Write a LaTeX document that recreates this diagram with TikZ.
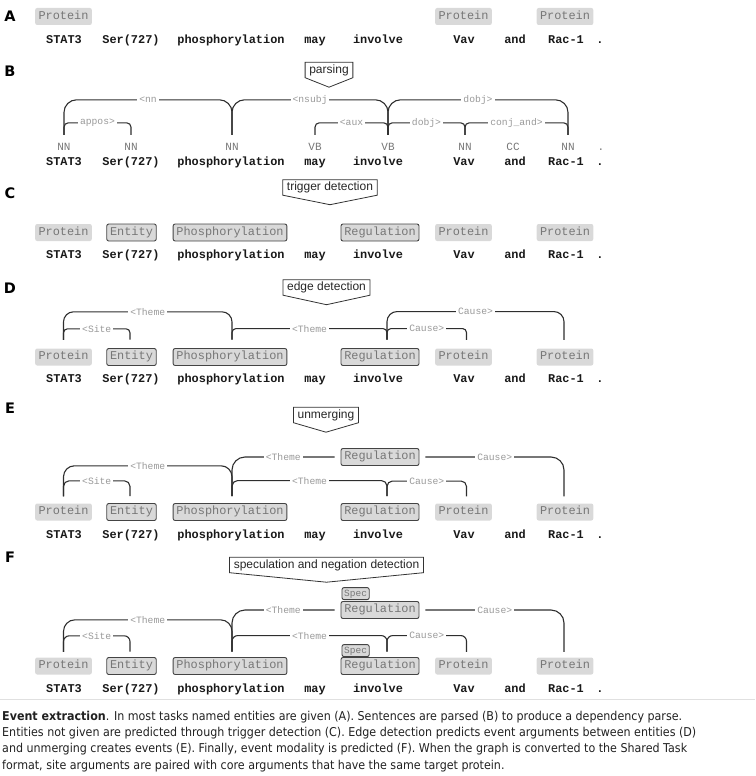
\documentclass[tikz,border=0pt]{standalone}
\usepackage{fontspec}
\setmainfont{Liberation Sans}
\setmonofont{Liberation Mono}
\newfontfamily\capfont[FakeStretch=0.91]{DejaVu Sans}
\newfontfamily\letterfont{DejaVu Sans}

\definecolor{boxgray}{HTML}{D9D9D9}
\definecolor{txtgray}{HTML}{777777}
\definecolor{labgray}{HTML}{9A9A9A}
\definecolor{edgegray}{HTML}{444444}
\definecolor{arcgray}{HTML}{2E2E2E}

% arc from one foot up to a level and down to the other foot
\newcommand\deparc[4]{%
	\pgfmathsetmacro\rc{#3*0.36}
	\draw[arc,rounded corners=\rc pt] (#1) -- ++(0,-#3) -| node[deplabel,pos=.25]{#4} (#2);}

% the sentence, one node per token
\newcommand\sentence[2]{%
	\foreach \w/\x [count=\i] in {STAT3/64,Ser(727)/131,phosphorylation/231,may/315,involve/378,Vav/464,and/515,Rac-1/566,./600}
		\node[word] (#1w\i) at (\x,#2) {\w};}

% the entity / trigger labels over the sentence
\newcommand\eventrow[3]{%
	\node[given] (#1p1) at (63.5,#2) {Protein};
	\node[trig]  (#1e2) at (131.5,#2) {Entity};
	\node[trig]  (#1t3) at (230,#2) {Phosphorylation};
	\node[trig]  (#1t5) at (380,#2) {Regulation};
	\node[given] (#1p6) at (463.5,#2) {Protein};
	\node[given] (#1p8) at (565,#2) {Protein};
	\foreach \n/\dx in {p1/0,e2/-1.5,t3/2,t5/7,p6/3,p8/-1}
		\coordinate (f#1\n) at ([xshift=\dx pt,yshift=#3pt]#1\n.north);}

\begin{document}
\begin{tikzpicture}[x=1pt,y=-1pt,
	panel/.style={font=\letterfont\fontsize{14.5}{15}\selectfont\bfseries, inner sep=0pt},
	word/.style={font=\ttfamily\bfseries\fontsize{11.9}{12}\selectfont, text=black!90, inner sep=0pt, anchor=base},
	tag/.style={font=\ttfamily\fontsize{11}{11}\selectfont, text=txtgray, inner sep=0pt, anchor=base, text height=7pt, text depth=0pt},
	given/.style={fill=boxgray, rounded corners=2pt, text=txtgray, font=\ttfamily\fontsize{11.9}{12}\selectfont,
		inner xsep=3.3pt, inner ysep=0pt, text height=8pt, text depth=2.5pt, minimum height=17pt},
	trig/.style={given, draw=edgegray, line width=0.9pt},
	spec/.style={trig, font=\ttfamily\fontsize{9.5}{10}\selectfont, inner xsep=2.2pt, text height=7pt, text depth=2pt, minimum height=12pt},
	stepbox/.style={font=\fontsize{12}{12}\selectfont, text=black!85, inner xsep=4pt, inner ysep=0pt, minimum height=15pt},
	stepline/.style={draw=black!80, line width=0.8pt},
	arc/.style={draw=arcgray, line width=1.1pt, rounded corners=7pt},
	deplabel/.style={fill=white, sharp corners, font=\ttfamily\fontsize{9.7}{10}\selectfont, text=labgray, inner xsep=2pt, inner ysep=1pt},
	caption/.style={font=\capfont\fontsize{12.2}{14}\selectfont, text=black!87, inner sep=0pt, anchor=west}]
	\useasboundingbox (0,0) rectangle (755,776);
	
	% panel letters
	\foreach \l/\y in {A/16,B/71,C/193,D/288,E/408,F/557}
		\node[panel] (l\l) at (10,\y) {\l};
	
	% the steps between panels
	\node[stepbox] (parse) at (329,70) {parsing};
	\node[stepbox] (trigdet) at (330,187.5) {trigger detection};
	\node[stepbox] (edgedet) at (326.5,287.5) {edge detection};
	\node[stepbox] (unmerge) at (326,415) {unmerging};
	\node[stepbox] (specdet) at (326.5,565) {speculation and negation detection};
	\foreach \s in {parse,trigdet,edgedet,unmerge,specdet}
		\draw[stepline] (\s.north west) -- (\s.north east) -- (\s.south east)
			-- ([yshift=-9.5pt]\s.south) -- (\s.south west) -- cycle;
	
	%% A: given entities
	\node[given] (Ap1) at (63.5,16.5) {Protein};
	\node[given] (Ap6) at (463.5,16.5) {Protein};
	\node[given] (Ap8) at (565,16.5) {Protein};
	\sentence{A}{43.5}
	
	%% B: dependency parse
	\foreach \t/\x [count=\i] in {NN/64,NN/131,NN/232,VB/315,VB/388,NN/465,CC/513,NN/568,./601} {
		\node[tag] (tB\i) at (\x,150.5) {\t};
		\coordinate (fB\i) at ([yshift=8.5pt]tB\i.north);
	}
	\deparc{fB1}{fB3}{35}{<nn}
	\deparc{fB3}{fB5}{35}{<nsubj}
	\deparc{fB5}{fB8}{35}{dobj>}
	\deparc{fB1}{fB2}{12}{appos>}
	\deparc{fB4}{fB5}{12}{<aux}
	\deparc{fB5}{fB6}{12}{dobj>}
	\deparc{fB6}{fB8}{12}{conj\_and>}
	\sentence{B}{165.5}
	
	%% C: triggers
	\eventrow{C}{232.5}{8.5}
	\sentence{C}{258.5}
	
	%% D: edges
	\eventrow{D}{357}{8.5}
	\deparc{fDp1}{fDt3}{28}{<Theme}
	\deparc{fDp1}{fDe2}{11}{<Site}
	\deparc{fDt3}{fDt5}{11}{<Theme}
	\deparc{fDt5}{fDp8}{28}{Cause>}
	\deparc{fDt5}{fDp6}{11}{Cause>}
	\sentence{D}{382.5}
	
	%% E: unmerged events
	\eventrow{E}{512}{7}
	\node[trig] (Eu5) at (380,457) {Regulation};
	\draw[arc,rounded corners=13pt] (fEt3) |- node[deplabel,pos=.75]{<Theme} ([xshift=-6pt]Eu5.west);
	\draw[arc,rounded corners=13pt] ([xshift=6pt]Eu5.east) -| node[deplabel,pos=.25]{Cause>} (fEp8);
	\deparc{fEp1}{fEt3}{30.5}{<Theme}
	\deparc{fEp1}{fEe2}{15.5}{<Site}
	\deparc{fEt3}{fEt5}{15.5}{<Theme}
	\deparc{fEt5}{fEp6}{15}{Cause>}
	\sentence{E}{538.5}
	
	%% F: modality
	\eventrow{F}{666}{5.5}
	\node[trig] (Fu5) at (380,610) {Regulation};
	\node[spec,anchor=south west] (Fsu) at ([xshift=1pt,yshift=1pt]Fu5.north west) {Spec};
	\node[spec,anchor=south west] (Fsl) at ([xshift=1pt]Ft5.north west) {Spec};
	\draw[arc,rounded corners=13pt] (fFt3) |- node[deplabel,pos=.75]{<Theme} ([xshift=-6pt]Fu5.west);
	\draw[arc,rounded corners=13pt] ([xshift=6pt]Fu5.east) -| node[deplabel,pos=.25]{Cause>} (fFp8);
	\deparc{fFp1}{fFt3}{32}{<Theme}
	\deparc{fFp1}{fFe2}{16}{<Site}
	\deparc{fFt3}{fFt5}{16}{<Theme}
	\deparc{fFt5}{fFp6}{16}{Cause>}
	\sentence{F}{692.5}
	
	% caption
	\draw[black!12] (0,699) -- (755,699);
	\node[caption] (cap1) at (2,717) {\textbf{Event extraction}. In most tasks named entities are given (A). Sentences are parsed (B) to produce a dependency parse.};
	\node[caption] (cap2) at (2,733) {Entities not given are predicted through trigger detection (C). Edge detection predicts event arguments between entities (D)};
	\node[caption] (cap3) at (2,749.5) {and unmerging creates events (E). Finally, event modality is predicted (F). When the graph is converted to the Shared Task};
	\node[caption] (cap4) at (2,766) {format, site arguments are paired with core arguments that have the same target protein.};
\end{tikzpicture}
\end{document}
